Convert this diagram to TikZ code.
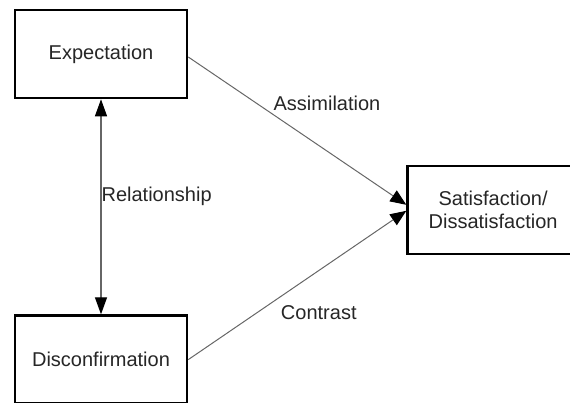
\documentclass[tikz,border=0pt]{standalone}
\usepackage{fontspec}
\setmainfont{Liberation Sans}
\usepackage{tikz}
\usetikzlibrary{arrows.meta,positioning,calc}
\tikzset{
  box/.style={
    draw=black,
    line width=1.3pt,
    fill=white,
    align=center,
    minimum width=86pt,
    minimum height=44pt,
    inner sep=2pt,
    text=black!85,
    font=\fontsize{10}{11.5}\selectfont
  },
  link/.style={-{Triangle[length=8pt,width=6.5pt,color=black]}, line width=0.5pt, draw=black!60},
  twoway/.style={{Triangle[length=8.5pt,width=6pt,color=black]}-{Triangle[length=8.5pt,width=6pt,color=black]}, line width=0.6pt, draw=black!60},
  tag/.style={font=\fontsize{10}{12}\selectfont, text=black!85, inner sep=1pt}
}
\begin{document}
\begin{tikzpicture}[node distance=107.5pt and 109pt]
\useasboundingbox (0,0) rectangle (285pt,-201.5pt);
\node[box] (expect) at (50.5pt,-27pt) {Expectation};
\node[box, below=of expect] (disconf) {Disconfirmation};
\coordinate (mid) at ($(expect.east)!0.5!(disconf.east)$);
\node[box, minimum width=85.5pt, right=of mid, yshift=-1.5pt] (sat) {Satisfaction/\\Dissatisfaction};

\draw[twoway] (expect) -- (disconf) node[tag, pos=0.45, anchor=west, inner sep=0pt] {Relationship};
\draw[link] ([yshift=-1.5pt]expect.east) -- ([yshift=2.5pt]sat.west) node[tag, pos=0.38, anchor=south west] {Assimilation};
\draw[link] (disconf.east) -- ([yshift=-0.5pt]sat.west) node[tag, pos=0.40, anchor=north west, inner sep=2.5pt] {Contrast};
\end{tikzpicture}
\end{document}
